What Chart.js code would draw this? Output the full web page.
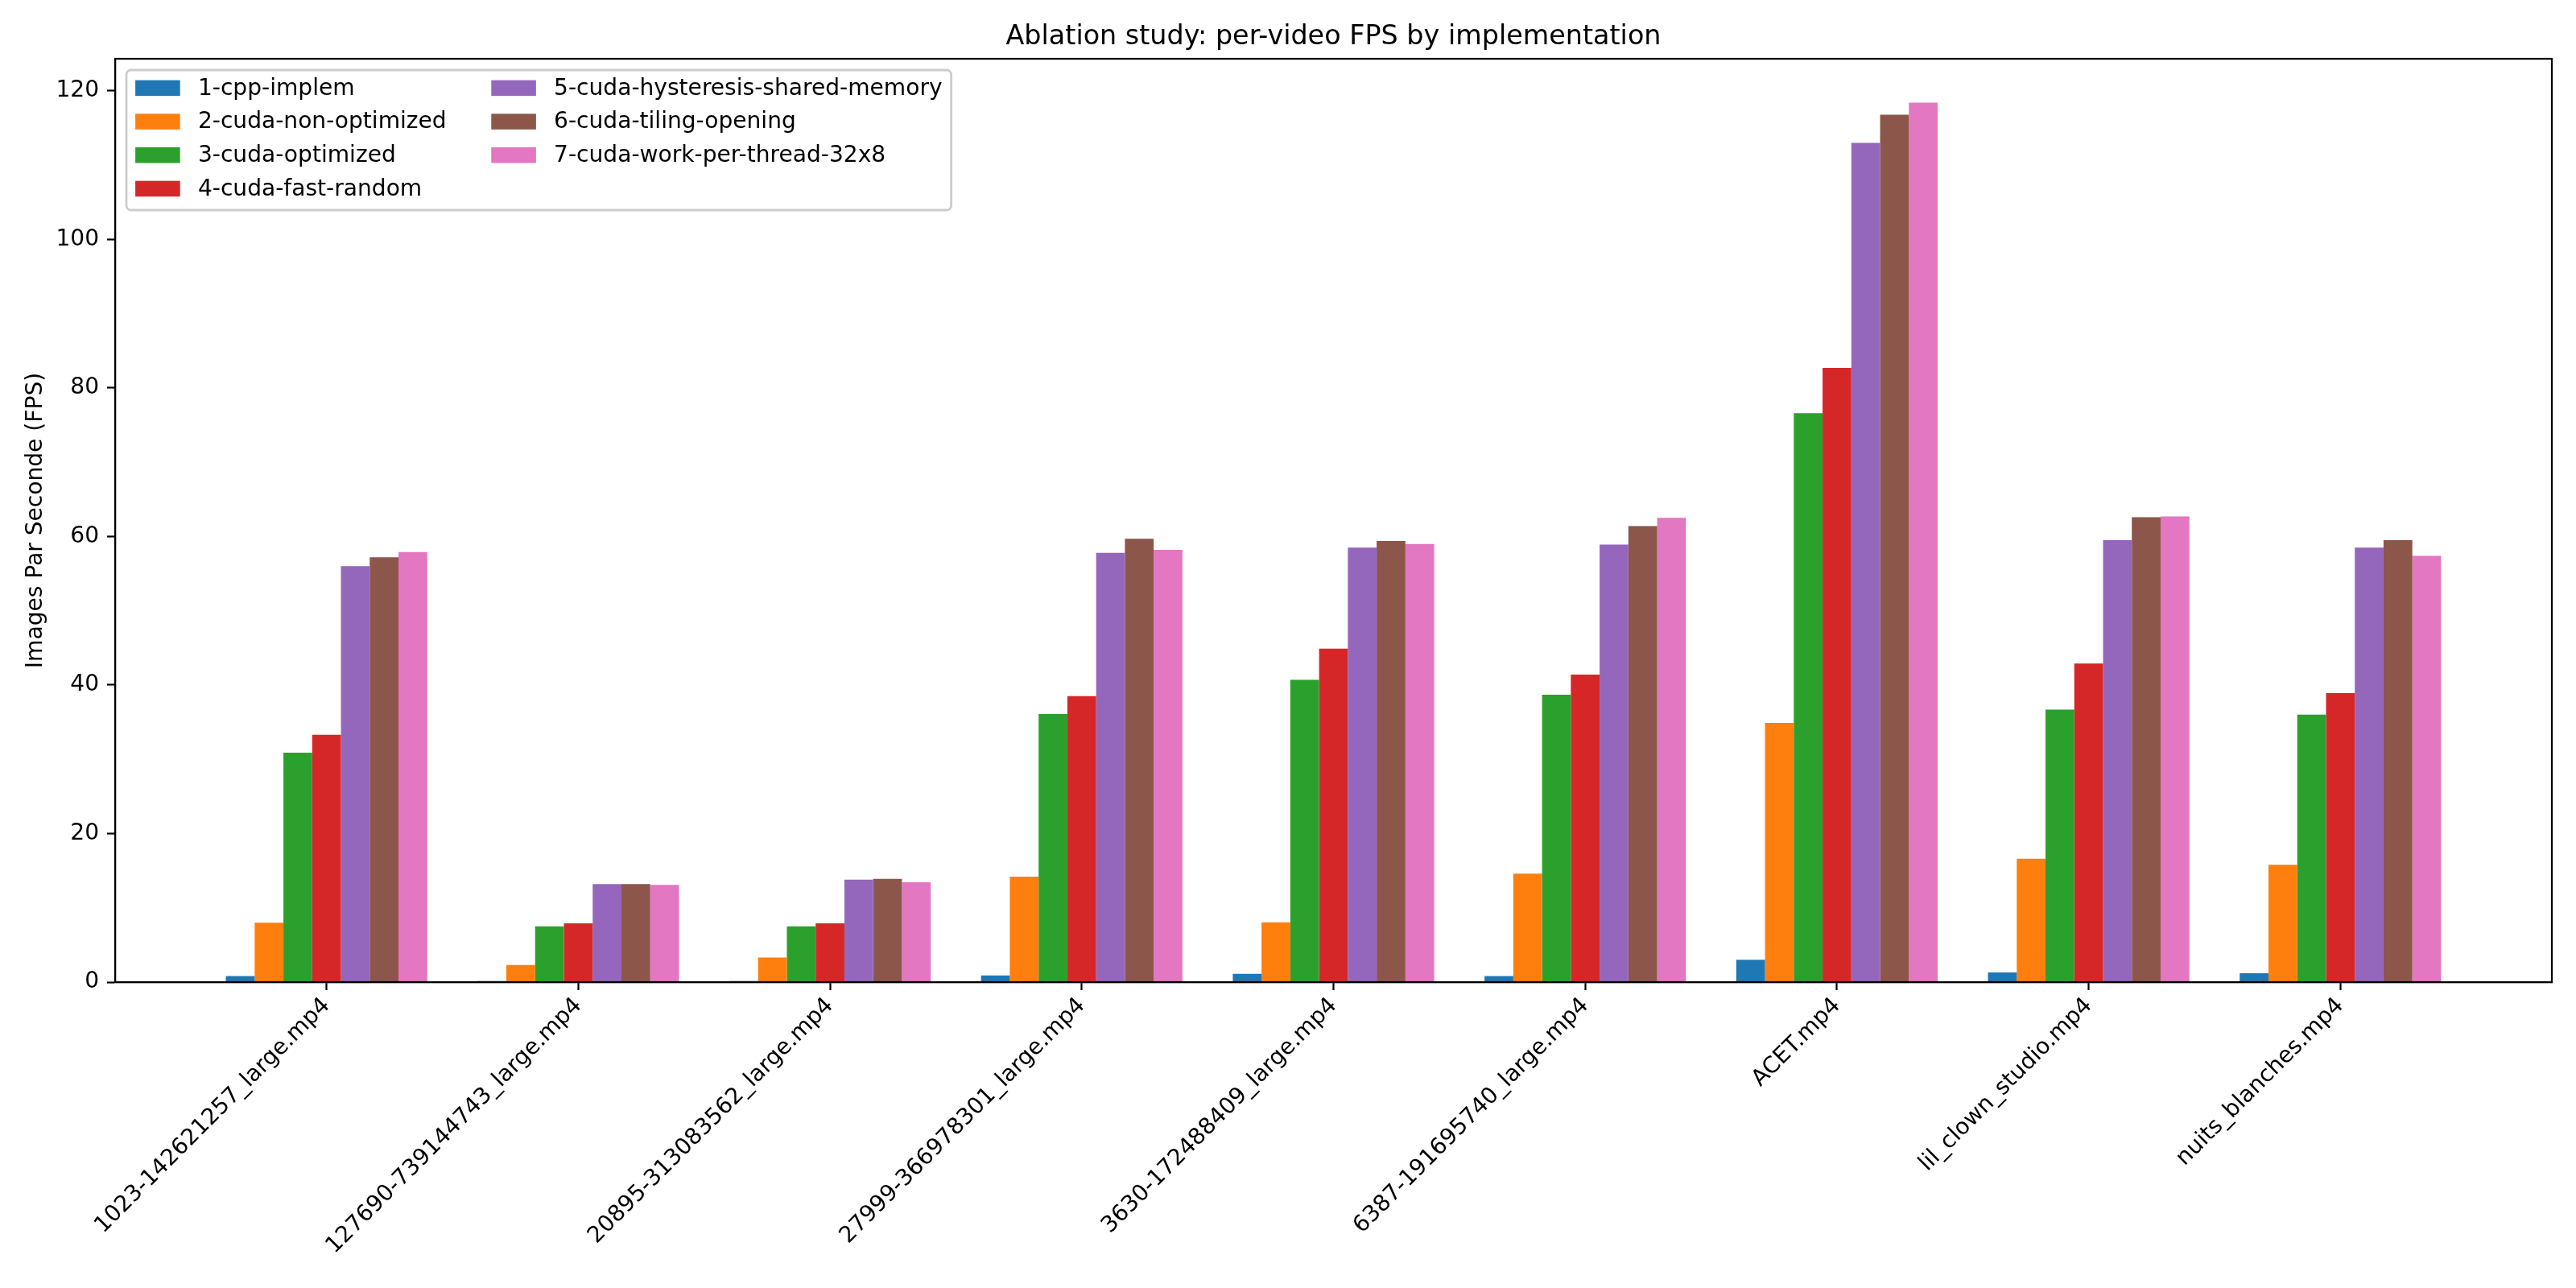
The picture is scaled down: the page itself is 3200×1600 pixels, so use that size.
<!DOCTYPE html>
<html>
<head>
<meta charset="utf-8">
<script src="https://cdn.jsdelivr.net/npm/chart.js@4.4.0/dist/chart.umd.min.js"></script>
<style>
  html, body { margin: 0; padding: 0; background: #fff; }
  #wrap { width: 3200px; height: 1600px; }
</style>
</head>
<body>
<div id="wrap"><canvas id="fpsChart" width="3200" height="1600"></canvas></div>
<script>
// videos on the x axis
const videos = [
  "1023-142621257_large.mp4",
  "127690-739144743_large.mp4",
  "20895-313083562_large.mp4",
  "27999-366978301_large.mp4",
  "3630-172488409_large.mp4",
  "6387-191695740_large.mp4",
  "ACET.mp4",
  "lil_clown_studio.mp4",
  "nuits_blanches.mp4"
];

const implementations = [
  "1-cpp-implem",
  "2-cuda-non-optimized",
  "3-cuda-optimized",
  "4-cuda-fast-random",
  "5-cuda-hysteresis-shared-memory",
  "6-cuda-tiling-opening",
  "7-cuda-work-per-thread-32x8"
];

// FPS per video, one array per implementation
const cppImplem       = [0.8, 0.13, 0.13, 0.9, 1.1, 0.8, 3.0, 1.3, 1.2];
const cudaNonOpt      = [8.0, 2.3, 3.3, 14.2, 8.05, 14.6, 34.9, 16.6, 15.8];
const cudaOptimized   = [30.9, 7.5, 7.5, 36.1, 40.7, 38.7, 76.6, 36.7, 36.0];
const cudaFastRandom  = [33.3, 7.9, 7.9, 38.5, 44.9, 41.4, 82.7, 42.9, 38.9];
const cudaHysteresis  = [56.0, 13.2, 13.8, 57.8, 58.5, 58.9, 113.0, 59.5, 58.5];
const cudaTiling      = [57.2, 13.2, 13.9, 59.7, 59.4, 61.4, 116.8, 62.6, 59.5];
const cudaWorkPerThr  = [57.9, 13.1, 13.45, 58.2, 59.0, 62.5, 118.4, 62.7, 57.4];

const yTicks = [0, 20, 40, 60, 80, 100, 120];

const series = [cppImplem, cudaNonOpt, cudaOptimized, cudaFastRandom, cudaHysteresis, cudaTiling, cudaWorkPerThr];
const colors = ["#1f77b4", "#ff7f0e", "#2ca02c", "#d62728", "#9467bd", "#8c564b", "#e377c2"];

const FONT = "DejaVu Sans";
const FS = 28.1;
Chart.defaults.font.family = FONT;
Chart.defaults.color = "#000";

// matplotlib-like autoscale: 5% margins
const yMax = Math.max(...series.flat()) * 1.05;
const xSpan = videos.length - 1 + 0.8;
const xMin = -0.4 - 0.05 * xSpan;
const xMax = videos.length - 1 + 0.4 + 0.05 * xSpan;

// box around the axes + title centred on the axes
const frameAndTitle = {
  id: "frameAndTitle",
  afterDraw(chart) {
    const { ctx, chartArea: a } = chart;
    ctx.save();
    ctx.strokeStyle = "#000";
    ctx.lineWidth = 2.2;
    ctx.strokeRect(a.left, a.top, a.right - a.left, a.bottom - a.top);
    ctx.fillStyle = "#000";
    ctx.font = "33.4px '" + FONT + "'";
    ctx.textAlign = "center";
    ctx.textBaseline = "alphabetic";
    ctx.fillText("Ablation study: per-video FPS by implementation", (a.left + a.right) / 2, 55);
    ctx.restore();
  }
};

// two-column legend inside the upper-left corner
const boxLegend = {
  id: "boxLegend",
  afterDraw(chart) {
    const { ctx, chartArea: a } = chart;
    const pad = 11.1, hw = 55.6, hh = 19.5, gap = 22.2, colGap = 55.6, pitch = 41.67;
    const sets = chart.data.datasets;
    const cols = [sets.slice(0, 4), sets.slice(4)];
    ctx.save();
    ctx.font = FS + "px '" + FONT + "'";
    const colW = cols.map(c => hw + gap + Math.max(...c.map(d => ctx.measureText(d.label).width)));
    const bx = a.left + 14, by = a.top + 14;
    const bw = pad * 2 + colW[0] + colGap + colW[1];
    const bh = 174;
    const r = 5.6;
    ctx.beginPath();
    ctx.moveTo(bx + r, by);
    ctx.arcTo(bx + bw, by, bx + bw, by + bh, r);
    ctx.arcTo(bx + bw, by + bh, bx, by + bh, r);
    ctx.arcTo(bx, by + bh, bx, by, r);
    ctx.arcTo(bx, by, bx + bw, by, r);
    ctx.closePath();
    ctx.fillStyle = "rgba(255,255,255,0.8)";
    ctx.fill();
    ctx.strokeStyle = "#cccccc";
    ctx.lineWidth = 2.78;
    ctx.stroke();

    ctx.textAlign = "left";
    ctx.textBaseline = "middle";
    let x = bx + pad;
    cols.forEach((c, ci) => {
      c.forEach((d, ri) => {
        const cy = by + 22.4 + ri * pitch;
        ctx.fillStyle = d.backgroundColor;
        ctx.fillRect(x, cy - hh / 2, hw, hh);
        ctx.fillStyle = "#000";
        ctx.fillText(d.label, x + hw + gap, cy + 1);
      });
      x += colW[ci] + colGap;
    });
    ctx.restore();
  }
};

new Chart(document.getElementById("fpsChart"), {
  type: "bar",
  data: {
    datasets: implementations.map((name, k) => ({
      label: name,
      data: series[k].map((v, i) => ({ x: i, y: v })),
      backgroundColor: colors[k],
      borderWidth: 0,
      categoryPercentage: 0.8,
      barPercentage: 1.0
    }))
  },
  options: {
    responsive: false,
    animation: false,
    devicePixelRatio: 1,
    layout: { padding: { top: 73, right: 30, left: 0, bottom: 0 } },
    plugins: {
      legend: { display: false },
      title: { display: false },
      tooltip: { enabled: false }
    },
    scales: {
      x: {
        type: "linear",
        offset: false,
        min: xMin,
        max: xMax,
        afterBuildTicks: axis => { axis.ticks = videos.map((_, i) => ({ value: i })); },
        afterFit: axis => { axis.height = 380; },
        ticks: {
          autoSkip: false,
          minRotation: 45,
          maxRotation: 45,
          padding: 3,
          font: { size: FS },
          color: "#000",
          callback: v => videos[v]
        },
        grid: { display: true, offset: false, drawOnChartArea: false, tickLength: 10, tickWidth: 2.2, tickColor: "#000" },
        border: { display: true, color: "#000", width: 2.2 }
      },
      y: {
        min: 0,
        max: yMax,
        afterBuildTicks: axis => { axis.ticks = yTicks.map(v => ({ value: v })); },
        afterFit: axis => { axis.width = 143; },
        ticks: { padding: 10, font: { size: FS }, color: "#000" },
        grid: { display: true, drawOnChartArea: false, tickLength: 10, tickWidth: 2.2, tickColor: "#000" },
        border: { display: true, color: "#000", width: 2.2 },
        title: {
          display: true,
          text: "Images Par Seconde (FPS)",
          font: { size: FS },
          color: "#000",
          padding: { top: 28, bottom: 0 }
        }
      }
    }
  },
  plugins: [frameAndTitle, boxLegend]
});
</script>
</body>
</html>
